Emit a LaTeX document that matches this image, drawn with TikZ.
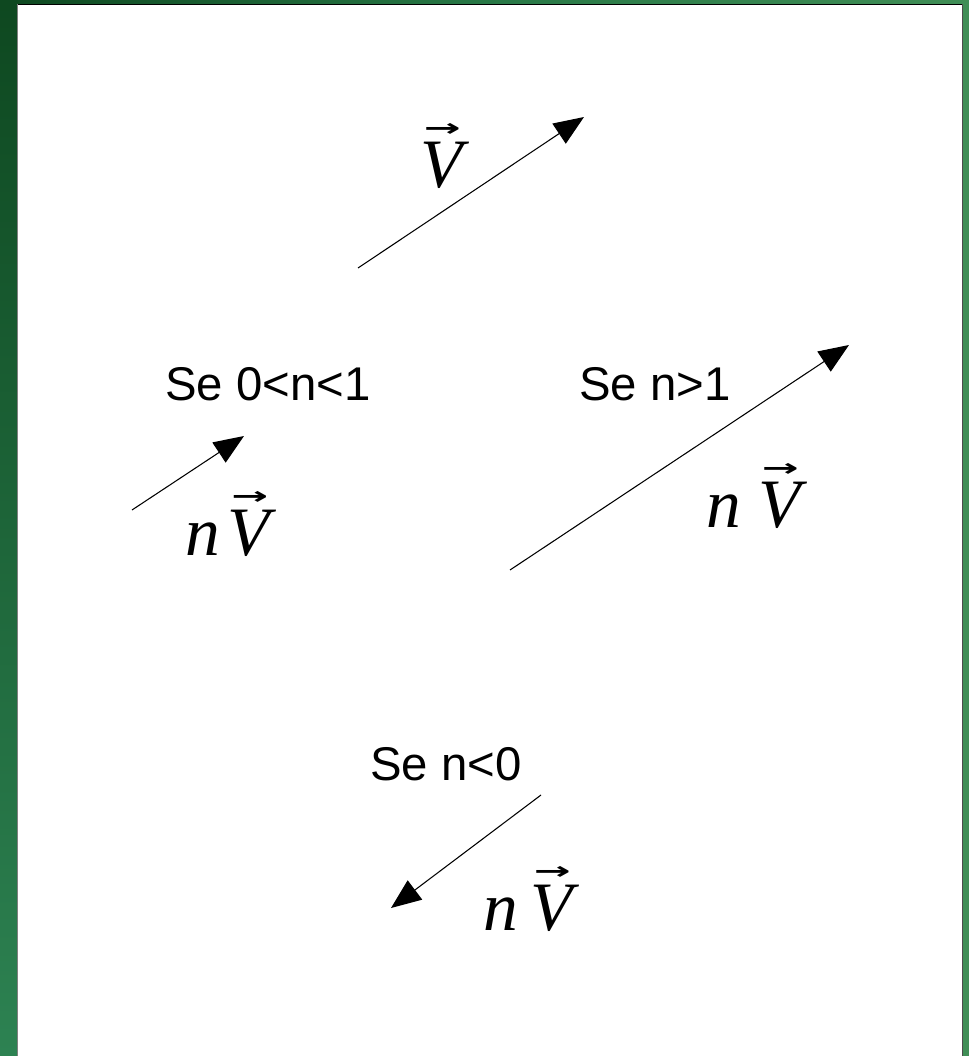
\documentclass[tikz,border=0pt]{standalone}
\usepackage{fontspec}
\usepackage{graphicx}
\setmainfont{Liberation Serif}
\newfontfamily\labsans{Liberation Sans}
\newfontfamily\labserif{Liberation Serif}
\newfontfamily\arrowfont{DejaVu Sans Bold}
\usetikzlibrary{arrows.meta}
\definecolor{gdark}{RGB}{14,72,32}
\definecolor{gmid}{RGB}{40,120,70}
\definecolor{glight}{RGB}{64,142,86}
\definecolor{gleftbot}{RGB}{45,130,82}
\newcommand{\vacc}{\llap{\raisebox{38pt}{\scalebox{1}[0.55]{\arrowfont\upshape\fontsize{33}{33}\selectfont →}}\hspace{1.5pt}}}
\tikzset{
  cond/.style={inner sep=0pt, anchor=base west, font=\labsans\fontsize{35.5}{40}\selectfont},
  vecl/.style={inner sep=0pt, anchor=base west, font=\labserif\itshape\fontsize{52}{60}\selectfont},
  vecarrow/.style={line width=0.8pt, -{Triangle[length=22.5pt,width=18pt]}}
}
\begin{document}
\begin{tikzpicture}[x=0.75pt,y=-0.75pt]
\useasboundingbox (0,0) rectangle (969,1056);
\shade[left color=gdark, right color=glight, middle color=gmid] (0,0) rectangle (969,1056);
\shade[top color=gdark, bottom color=gleftbot] (0,0) rectangle (17,1056);
\fill[white] (17,4) rectangle (962,1056);
\draw[black, line width=1.2pt] (17,4.5) -- (962,4.5);
\draw[gray, line width=0.6pt] (17.5,4) -- (17.5,1056);
\draw[black!70, line width=1pt] (962.5,4) -- (962.5,1056);

% top vector
\coordinate (a0) at (358,268);
\coordinate (a1) at (584,117);
\draw[vecarrow] (a0) -- (a1);
\node[vecl] (v0) at (420,187) {V\vacc};

% 0<n<1
\node[cond] (c1) at (165,400) {Se 0<n<1};
\coordinate (b0) at (132,510);
\coordinate (b1) at (244,436);
\draw[vecarrow] (b0) -- (b1);
\node[vecl] (l1) at (185,555) {n\hspace{0.115em}V\vacc};

% n>1
\node[cond] (c2) at (579,400) {Se n>1};
\coordinate (d0) at (510,570);
\coordinate (d1) at (849,345);
\draw[vecarrow] (d0) -- (d1);
\node[vecl] (l2) at (706,527) {n V\vacc};

% n<0
\node[cond] (c3) at (370,780) {Se n<0};
\coordinate (e0) at (541,795);
\coordinate (e1) at (391,908);
\draw[vecarrow] (e0) -- (e1);
\node[vecl] (l3) at (483,930) {n\hspace{0.18em}V\vacc};
\end{tikzpicture}
\end{document}
